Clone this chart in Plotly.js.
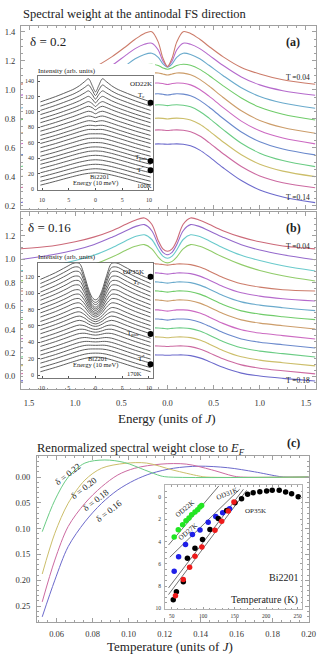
<!DOCTYPE html>
<html>
<head>
<meta charset="utf-8">
<script src="https://cdn.plot.ly/plotly-3.0.1.min.js"></script>
<style>
  html, body { margin: 0; padding: 0; background: #fff; }
  #chart { width: 322px; height: 665px; }
</style>
</head>
<body>
<div id="chart"></div>
<script>
// ---------- panel (a): delta = 0.2, curves listed from T = 0.04 (top) down ----------
const energyHalf = [0, 0.05, 0.1, 0.17, 0.25, 0.35, 0.45, 0.6, 0.8, 1.0, 1.25, 1.6];
const tempsA = ["0.04", "0.05", "0.06", "0.07", "0.08", "0.09", "0.10", "0.11", "0.12", "0.13", "0.14"];
const curvesA = [
  [1.161, 1.22, 1.33, 1.402, 1.39, 1.35, 1.30, 1.23, 1.155, 1.11, 1.07, 1.039],
  [1.161, 1.20, 1.275, 1.322, 1.315, 1.285, 1.24, 1.17, 1.09, 1.035, 0.995, 0.963],
  [1.157, 1.18, 1.225, 1.253, 1.245, 1.215, 1.17, 1.10, 1.015, 0.955, 0.91, 0.874],
  [1.143, 1.152, 1.168, 1.177, 1.17, 1.142, 1.10, 1.03, 0.945, 0.88, 0.832, 0.793],
  [1.103, 1.11, 1.117, 1.116, 1.105, 1.073, 1.027, 0.95, 0.856, 0.79, 0.741, 0.701],
  [1.038, 1.044, 1.048, 1.046, 1.035, 1.003, 0.957, 0.88, 0.785, 0.718, 0.668, 0.628],
  [0.965, 0.97, 0.974, 0.971, 0.96, 0.928, 0.882, 0.805, 0.71, 0.643, 0.593, 0.552],
  [0.892, 0.896, 0.898, 0.895, 0.884, 0.852, 0.806, 0.728, 0.632, 0.564, 0.513, 0.471],
  [0.80, 0.804, 0.806, 0.803, 0.793, 0.763, 0.718, 0.643, 0.553, 0.488, 0.44, 0.402],
  [0.72, 0.723, 0.725, 0.722, 0.712, 0.682, 0.637, 0.562, 0.472, 0.407, 0.36, 0.326],
  [0.626, 0.627, 0.628, 0.626, 0.615, 0.585, 0.54, 0.465, 0.375, 0.31, 0.262, 0.223],
];

// ---------- panel (b): delta = 0.16 ----------
const tempsB = ["0.04", "0.05", "0.06", "0.07", "0.08", "0.09", "0.10", "0.11", "0.12", "0.13", "0.14", "0.15", "0.16", "0.17", "0.18"];
const curvesB = [
  [1.069, 1.09, 1.16, 1.30, 1.354, 1.335, 1.30, 1.245, 1.19, 1.15, 1.115, 1.09],
  [1.04, 1.06, 1.125, 1.245, 1.297, 1.28, 1.245, 1.19, 1.125, 1.08, 1.04, 0.997],
  [1.01, 1.028, 1.08, 1.17, 1.21, 1.195, 1.16, 1.10, 1.035, 0.99, 0.945, 0.90],
  [0.97, 0.983, 1.02, 1.09, 1.126, 1.112, 1.078, 1.02, 0.955, 0.905, 0.86, 0.815],
  [0.951, 0.956, 0.961, 0.961, 0.955, 0.934, 0.901, 0.846, 0.791, 0.763, 0.741, 0.73],
  [0.874, 0.879, 0.884, 0.884, 0.878, 0.857, 0.824, 0.769, 0.714, 0.686, 0.664, 0.644],
  [0.797, 0.802, 0.807, 0.807, 0.801, 0.78, 0.747, 0.692, 0.637, 0.609, 0.587, 0.562],
  [0.72, 0.725, 0.73, 0.73, 0.724, 0.703, 0.67, 0.615, 0.56, 0.532, 0.51, 0.485],
  [0.643, 0.648, 0.653, 0.653, 0.647, 0.626, 0.593, 0.538, 0.483, 0.455, 0.433, 0.405],
  [0.558, 0.563, 0.568, 0.568, 0.562, 0.541, 0.508, 0.453, 0.398, 0.37, 0.348, 0.32],
  [0.481, 0.486, 0.49, 0.49, 0.484, 0.463, 0.43, 0.375, 0.32, 0.292, 0.27, 0.242],
  [0.406, 0.41, 0.414, 0.414, 0.408, 0.387, 0.354, 0.299, 0.244, 0.216, 0.194, 0.165],
  [0.33, 0.334, 0.337, 0.337, 0.331, 0.31, 0.277, 0.222, 0.167, 0.139, 0.117, 0.09],
  [0.255, 0.258, 0.26, 0.26, 0.254, 0.234, 0.202, 0.15, 0.098, 0.07, 0.048, 0.021],
  [0.18, 0.182, 0.183, 0.183, 0.177, 0.158, 0.128, 0.078, 0.028, 0.003, -0.017, -0.039],
];

// ---------- ARPES insets (Bi2201), rows from bottom (hot) to top (cold) ----------
const insetEnergyHalf = [0, 0.6, 1.3, 2, 3, 4, 5.5, 7.5, 10.3];
const insetABase = [5, 10, 15.5, 21, 26.5, 32, 37, 42.5, 48, 53.5, 59, 64, 69.5, 75, 80.5, 86, 91, 96.5, 102, 107.5, 113];
const insetARows = [
  [16.0, 15.8, 15.3, 14.6, 13.2, 11.5, 8.8, 5.0, 0],
  [16.3, 16.1, 15.6, 14.8, 13.4, 11.7, 8.9, 5.0, 0],
  [16.6, 16.4, 15.9, 15.1, 13.6, 11.8, 9.0, 5.1, 0],
  [16.9, 16.7, 16.2, 15.3, 13.8, 12.0, 9.1, 5.1, 0],
  [17.2, 17.0, 16.5, 15.6, 14.0, 12.1, 9.2, 5.2, 0],
  [17.4, 17.2, 16.8, 15.8, 14.2, 12.3, 9.3, 5.2, 0],
  [17.6, 17.5, 17.0, 16.1, 14.4, 12.4, 9.4, 5.3, 0],
  [17.8, 17.7, 17.3, 16.3, 14.6, 12.6, 9.5, 5.3, 0],
  [18.0, 17.9, 17.6, 16.6, 14.8, 12.7, 9.6, 5.4, 0],
  [18.1, 18.1, 17.9, 16.9, 15.0, 12.9, 9.7, 5.4, 0],
  [18.1, 18.3, 18.2, 17.2, 15.3, 13.0, 9.8, 5.5, 0],
  [18.0, 18.5, 18.6, 17.6, 15.5, 13.2, 9.9, 5.5, 0],
  [17.8, 18.7, 19.1, 18.0, 15.8, 13.4, 10.0, 5.6, 0],
  [17.5, 18.9, 19.7, 18.5, 16.1, 13.6, 10.2, 5.7, 0],
  [17.1, 19.2, 20.4, 19.1, 16.5, 13.9, 10.4, 5.8, 0],
  [16.6, 19.5, 21.3, 19.8, 16.9, 14.2, 10.6, 5.9, 0],
  [16.0, 19.8, 22.4, 20.6, 17.4, 14.6, 10.8, 6.0, 0],
  [15.3, 20.1, 23.7, 21.6, 18.0, 15.0, 11.1, 6.2, 0],
  [14.6, 20.4, 25.3, 22.8, 18.8, 15.5, 11.5, 6.4, 0],
  [13.8, 20.7, 27.4, 24.4, 19.8, 16.1, 11.9, 6.6, 0],
  [13.0, 21.0, 30.0, 26.5, 21.0, 16.8, 12.3, 6.8, 0],
];
const insetADotX = [10.3, 10.3, 10.3];
const insetADotY = [112, 36.3, 24.3];   // Tc, Tpair, T*

const insetBBase = [4, 9, 14.5, 19.5, 24.5, 29.5, 35, 40, 45, 50.5, 55.5, 60.5, 65.5, 71, 76, 81, 86, 91.5, 96.5, 101.5, 107, 112, 117];
const insetBRows = [
  [18, 17.8, 17.2, 16.3, 14.6, 12.6, 9.5, 5.3, 0],
  [17.8, 17.7, 17.3, 16.5, 14.8, 12.8, 9.6, 5.4, 0],
  [17.4, 17.4, 17.2, 16.6, 15.0, 13.0, 9.8, 5.5, 0],
  [16.8, 16.9, 17.0, 16.7, 15.2, 13.2, 9.9, 5.5, 0],
  [16.0, 16.2, 16.6, 16.6, 15.4, 13.4, 10.0, 5.6, 0],
  [15.0, 15.3, 16.0, 16.4, 15.6, 13.6, 10.2, 5.7, 0],
  [13.8, 14.2, 15.2, 16.1, 15.8, 13.9, 10.4, 5.8, 0],
  [12.4, 12.9, 14.2, 15.7, 16.0, 14.2, 10.6, 5.9, 0],
  [10.8, 11.4, 13.1, 15.2, 16.2, 14.5, 10.8, 6.0, 0],
  [9.0, 9.8, 11.9, 14.6, 16.4, 14.9, 11.0, 6.1, 0],
  [7.0, 8.0, 10.5, 14.0, 16.6, 15.3, 11.3, 6.2, 0],
  [4.8, 6.0, 9.0, 13.3, 16.8, 15.7, 11.6, 6.3, 0],
  [2.4, 3.8, 7.4, 12.5, 17.0, 16.1, 11.9, 6.5, 0],
  [-0.2, 1.4, 5.7, 11.7, 17.2, 16.5, 12.2, 6.6, 0],
  [-3.0, -1.2, 3.9, 10.8, 17.4, 17.0, 12.5, 6.8, 0],
  [-6.0, -4.0, 2.0, 9.9, 17.7, 17.5, 12.8, 7.0, 0],
  [-9.2, -7.0, 0.0, 9.0, 18.0, 18.0, 13.2, 7.2, 0],
  [-12.5, -10.1, -2.1, 8.0, 18.3, 18.5, 13.6, 7.4, 0],
  [-15.6, -13.0, -4.2, 7.0, 18.6, 19.0, 14.0, 7.6, 0],
  [-18.4, -15.7, -6.3, 6.0, 18.9, 19.4, 14.4, 7.8, 0],
  [-20.9, -18.2, -8.3, 5.0, 19.2, 19.8, 14.7, 8.0, 0],
  [-23.1, -20.4, -10.2, 4.0, 19.5, 20.1, 15.0, 8.1, 0],
  [-25.0, -22.3, -12.0, 3.0, 19.5, 20.0, 15.2, 8.2, 0],
];
const insetBDotX = [10.3, 10.3, 10.3];
const insetBDotY = [120.3, 50.2, 13.1];

// ---------- panel (c): renormalized weight vs T ----------
const deltaC = ["0.16", "0.18", "0.20", "0.22"];
const tC = [
  [0.052, 0.059, 0.0664, 0.0757, 0.085, 0.094, 0.1034, 0.1126, 0.125, 0.139, 0.155, 0.17, 0.182, 0.186, 0.2],
  [0.052, 0.059, 0.0664, 0.0757, 0.085, 0.094, 0.1034, 0.118, 0.132, 0.146, 0.158, 0.162, 0.2],
  [0.052, 0.059, 0.0664, 0.0757, 0.085, 0.098, 0.11, 0.1246, 0.139, 0.143, 0.2],
  [0.052, 0.059, 0.0665, 0.0757, 0.0868, 0.0978, 0.109, 0.118, 0.122, 0.2],
];
const wC = [
  [0.271, 0.20, 0.135, 0.087, 0.051, 0.025, 0.006, -0.007, -0.017, -0.021, -0.018, -0.01, -0.002, 0, 0],
  [0.242, 0.161, 0.096, 0.051, 0.019, -0.004, -0.017, -0.025, -0.025, -0.014, -0.002, 0, 0],
  [0.188, 0.109, 0.051, 0.006, -0.017, -0.0265, -0.027, -0.0135, -0.002, 0, 0],
  [0.106, 0.045, 0.0, -0.027, -0.033, -0.028, -0.0135, -0.002, 0, 0],
];

// inset (c): experimental points (K, arb.)
const od22T = [54, 60.5, 67.4, 72.7, 77.5, 81.7, 87, 91.3, 94.9, 97.6];
const od22W = [3.59, 2.94, 2.49, 2.13, 1.89, 1.59, 1.35, 1.14, 0.9, 0.75];
const od27T = [54, 61, 72, 83, 95, 108, 120, 131, 142];
const od27W = [6.65, 5.35, 4.25, 3.35, 2.95, 2.25, 1.75, 1.4, 1.05];
const od31T = [56, 68.4, 78.5, 87, 98, 118.7, 129.4, 139.9, 148.9];
const od31W = [8.85, 7.4, 6.3, 5.3, 4.47, 2.97, 2.16, 1.26, 0.45];
const op35T = [52.5, 57.5, 68.5, 75, 87, 99, 110.8, 124, 137.3, 150.5, 161, 170.6, 179.5, 190, 200.8, 209.7, 220.8, 231, 240.5, 251];
const op35W = [9.2, 8.5, 7.6, 5.5, 4.6, 3.8, 2.9, 1.92, 1.2, 0.51, 0.15, -0.24, -0.39, -0.48, -0.54, -0.6, -0.6, -0.45, -0.3, -0.03];
// straight guide lines
const fitT = [[45, 125], [47, 158], [45, 164], [45, 169]];
const fitW = [[4.3, -1.0], [5.4, -0.7], [8.15, -0.7], [8.75, -0.6]];

// ---------- helpers ----------
const W = 322, H = 665;
const fx = (p) => p / W;
const fy = (p) => 1 - p / H;
const SERIF = "Liberation Serif, Times New Roman, serif";

function hsv(h, s, v) {
  const i = Math.floor(h * 6), f = h * 6 - i;
  const p = v * (1 - s), q = v * (1 - f * s), t = v * (1 - (1 - f) * s);
  const rgb = [[v, t, p], [q, v, p], [p, v, t], [p, q, v], [t, p, v], [v, p, q]][i % 6];
  return `rgb(${rgb.map((c) => Math.round(c * 255)).join(",")})`;
}
// Mathematica-style default plot colours, index 0 = first plotted
const mma = (i) => hsv((0.67 + 0.236068 * i) % 1, 0.48, 0.8);

const mirrorX = (half) => half.slice(1).reverse().map((v) => -v).concat(half);
const mirrorY = (half) => half.slice(1).reverse().concat(half);

const traces = [];
const line = (xs, ys, xa, ya, color, width, shape) => ({
  x: xs, y: ys, xaxis: xa, yaxis: ya, type: "scatter", mode: "lines",
  line: { color, width, shape: shape || "spline", smoothing: 0.9 },
  hoverinfo: "skip", showlegend: false,
});
const dots = (xs, ys, xa, ya, color, size) => ({
  x: xs, y: ys, xaxis: xa, yaxis: ya, type: "scatter", mode: "markers",
  marker: { color, size }, cliponaxis: false, hoverinfo: "skip", showlegend: false,
});
const empty = (xa, ya) => ({ x: [], y: [], xaxis: xa, yaxis: ya, type: "scatter", hoverinfo: "skip", showlegend: false });

// panel (a)
const eFull = mirrorX(energyHalf);
curvesA.slice().reverse().forEach((c, i) => traces.push(line(eFull, mirrorY(c), "x", "y", mma(i), 1.1)));
traces.push(empty("x2", "y2"));
const ieFull = mirrorX(insetEnergyHalf);
insetARows.forEach((r, i) => traces.push(line(ieFull, mirrorY(r).map((v) => v + insetABase[i]), "x3", "y3", "#4d4d4d", 0.9)));
traces.push(dots(insetADotX, insetADotY, "x3", "y3", "#000", 6));

// panel (b)
curvesB.slice().reverse().forEach((c, i) => traces.push(line(eFull, mirrorY(c), "x4", "y4", mma(i), 1.1)));
traces.push(empty("x5", "y5"));
insetBRows.forEach((r, i) => traces.push(line(ieFull, mirrorY(r).map((v) => v + insetBBase[i]), "x6", "y6", "#4d4d4d", 0.9)));
traces.push(dots(insetBDotX, insetBDotY, "x6", "y6", "#000", 6));

// panel (c)
tC.forEach((t, i) => traces.push(line(t, wC[i], "x7", "y7", mma(i), 1)));
fitT.forEach((t, i) => traces.push(line(t, fitW[i], "x8", "y8", "#333", 0.7, "linear")));
traces.push(dots(od22T, od22W, "x8", "y8", "#22e622", 5.5));
traces.push(dots(od27T, od27W, "x8", "y8", "#1f1fe8", 5.5));
traces.push(dots(op35T, op35W, "x8", "y8", "#000", 5.5));
traces.push(dots(od31T, od31W, "x8", "y8", "#ee1a1a", 5.5));

// ---------- axes ----------
const GRAY = "#a0a0a0";
const frame = (extra) => Object.assign({
  showline: true, linecolor: GRAY, linewidth: 1, mirror: "ticks",
  ticks: "inside", ticklen: 4, tickcolor: GRAY, showgrid: false, zeroline: false,
  tickfont: { family: SERIF, size: 8.5, color: "#333" }, fixedrange: true,
}, extra);
const minor = (d) => ({ dtick: d, ticks: "inside", ticklen: 2, tickcolor: GRAY, showgrid: false });
const insetFrame = (extra) => Object.assign({
  showline: true, linecolor: "#555", linewidth: 0.8, mirror: true,
  ticks: "inside", ticklen: 2, tickcolor: "#555", showgrid: false, zeroline: false,
  tickfont: { family: SERIF, size: 6, color: "#333" }, ticklabelstandoff: 2, fixedrange: true,
}, extra);
const hidden = (dom, anchor) => ({ domain: dom, range: [0, 1], anchor, visible: false, fixedrange: true });

const energyTicks = [-1.5, -1, -0.5, 0, 0.5, 1, 1.5];
const energyText = ["1.5", "1.0", "0.5", "0.0", "0.5", "1.0", "1.5"];
const insetTicks = [-10, -5, 0, 5, 10];
const insetText = ["10", "5", "0", "5", "10"];

const layout = {
  width: W, height: H,
  margin: { l: 0, r: 0, t: 0, b: 0 },
  paper_bgcolor: "#fff", plot_bgcolor: "#fff",
  showlegend: false,
  // (a)
  xaxis: frame({ domain: [fx(21), fx(316)], range: [-1.587, 1.609], anchor: "y", showticklabels: false, dtick: 0.5, tick0: 0, minor: minor(0.1) }),
  yaxis: frame({ domain: [fy(209), fy(26)], range: [0.179, 1.441], anchor: "x", tickvals: [0.2, 0.4, 0.6, 0.8, 1.0, 1.2, 1.4], tickformat: ".1f", minor: minor(0.05), ticklabelstandoff: 3 }),
  xaxis2: hidden([fx(23), fx(155)], "y2"),
  yaxis2: hidden([fy(208), fy(64)], "x2"),
  xaxis3: insetFrame({ domain: [fx(38), fx(153)], range: [-10.75, 10.75], anchor: "y3", tickvals: insetTicks, ticktext: insetText, ticklabelstandoff: 4 }),
  yaxis3: insetFrame({ domain: [fy(190), fy(76)], range: [-1.3, 146.6], anchor: "x3", dtick: 20, tick0: 0 }),
  // (b)
  xaxis4: frame({ domain: [fx(21), fx(316)], range: [-1.587, 1.609], anchor: "y4", tickvals: energyTicks, ticktext: energyText, minor: minor(0.1), ticklabelstandoff: 6 }),
  yaxis4: frame({ domain: [fy(389), fy(212)], range: [-0.108, 1.405], anchor: "x4", tickvals: [0, 0.2, 0.4, 0.6, 0.8, 1.0, 1.2], tickformat: ".1f", minor: minor(0.05), ticklabelstandoff: 3 }),
  xaxis5: hidden([fx(23), fx(155)], "y5"),
  yaxis5: hidden([fy(388), fy(264)], "x5"),
  xaxis6: insetFrame({ domain: [fx(38), fx(153)], range: [-10.75, 10.75], anchor: "y6", tickvals: insetTicks, ticktext: insetText, ticklabelstandoff: 4 }),
  yaxis6: insetFrame({ domain: [fy(378), fy(263)], range: [-3.67, 137.1], anchor: "x6", dtick: 20, tick0: 0 }),
  // (c)
  xaxis7: frame({ domain: [fx(37), fx(309)], range: [0.0491, 0.2002], anchor: "y7", dtick: 0.02, tick0: 0, tickformat: ".2f", minor: minor(0.005), ticklabelstandoff: 4 }),
  yaxis7: frame({ domain: [fy(622), fy(456)], range: [0.281, -0.0407], anchor: "x7", dtick: 0.05, tick0: 0, tickformat: ".2f", minor: minor(0.01), ticklabelstandoff: 4 }),
  xaxis8: insetFrame({ domain: [fx(165), fx(302)], range: [39.4, 257], anchor: "y8", tickvals: [50, 100, 150, 200, 250], linecolor: GRAY, tickcolor: GRAY, mirror: "ticks", minor: { dtick: 10, ticks: "inside", ticklen: 1.5, tickcolor: GRAY }, tickfont: { family: SERIF, size: 5.5, color: "#333" } }),
  yaxis8: insetFrame({ domain: [fy(609), fy(485)], range: [10.04, -1.08], anchor: "x8", dtick: 2, tick0: 0, linecolor: GRAY, tickcolor: GRAY, mirror: "ticks", minor: { dtick: 0.5, ticks: "inside", ticklen: 1.5, tickcolor: GRAY }, tickfont: { family: SERIF, size: 5.5, color: "#333" } }),
  annotations: [],
};

function note(text, x, y, size, opts) {
  return Object.assign({
    text, x: fx(x), y: fy(y), xref: "paper", yref: "paper", showarrow: false,
    xanchor: "center", yanchor: "middle", borderpad: 0,
    font: { family: SERIF, size, color: "#222" },
  }, opts || {});
}
const L = { xanchor: "left" }, R = { xanchor: "right" };

layout.annotations.push(
  // (a)
  note("Spectral weight at the antinodal FS direction", 22, 14, 12.5, L),
  note("δ = 0.2", 29, 42, 13, L),
  note("<b>(a)</b>", 293, 42, 12),
  note("T =0.04", 311, 77, 7.5, R),
  note("T =0.14", 311, 197, 7.5, R),
  note("Intensity (arb. units)", 37, 71, 7, L),
  note("OD22K", 153, 84, 7, R),
  note("T<sub>c</sub>", 141, 95, 7),
  note("T<sub>pair</sub>", 141, 157, 7),
  note("T<sup>*</sup>", 140, 169, 7),
  note("Bi2201", 99, 176, 6.5),
  note("Energy (10 meV)", 95, 183, 6.5),
  note("100K", 153, 186, 6.5, R),
  // (b)
  note("δ = 0.16", 27, 227, 13, L),
  note("<b>(b)</b>", 293, 228, 12),
  note("T =0.04", 311, 246, 7.5, R),
  note("T =0.18", 311, 381, 7.5, R),
  note("Intensity (arb. units)", 37, 257, 7, L),
  note("OP35K", 145, 272, 7, R),
  note("T<sub>c</sub>", 136, 282, 7),
  note("T<sub>pair</sub>", 133, 333, 7),
  note("T<sup>*</sup>", 141, 358, 7),
  note("Bi2201", 97, 358, 6.5),
  note("Energy (10 meV)", 95, 365, 6.5),
  note("170K", 134, 373, 6.5),
  note("Energy (units of <i>J</i>)", 167, 418, 13),
  // (c)
  note("Renormalized spectral weight close to <i>E</i><sub><i>F</i></sub>", 36, 449, 12.5, L),
  note("<b>(c)</b>", 293, 443, 12),
  note("δ = 0.22", 68, 474, 9, { textangle: -38 }),
  note("δ = 0.20", 84, 488, 9, { textangle: -38 }),
  note("δ = 0.18", 96, 500, 9, { textangle: -38 }),
  note("δ = 0.16", 109, 511, 9, { textangle: -38 }),
  note("OD22K", 185, 509, 7, { textangle: -40 }),
  note("OD27K", 188, 532, 7, { textangle: -40 }),
  note("OD31K", 227, 494, 7, { textangle: -22 }),
  note("OP35K", 256, 511, 7),
  note("Bi2201", 299, 577, 10, R),
  note("Temperature (K)", 299, 600, 10, R),
  note("Temperature (units of <i>J</i>)", 170, 646, 13),
);

Plotly.newPlot("chart", traces, layout, { displayModeBar: false, staticPlot: true });
</script>
</body>
</html>
